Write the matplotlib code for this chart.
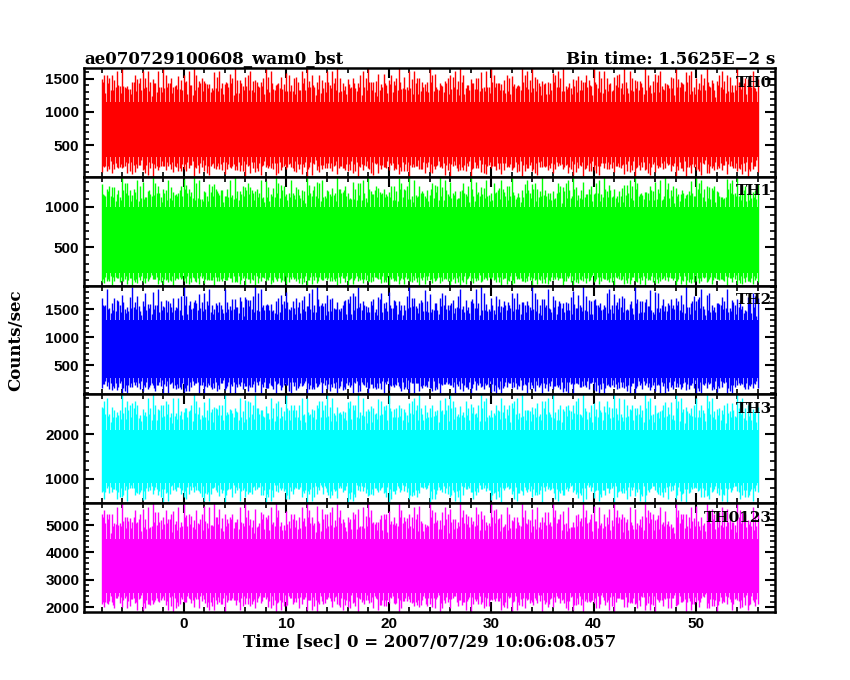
import matplotlib
matplotlib.use("Agg")
import matplotlib.pyplot as plt
import numpy as np

# one sample per second, t = -8 .. 56
t = list(range(-8, 57))
names = ["TH0", "TH1", "TH2", "TH3", "TH0123"]
colors = ["#ff0000", "#00ff00", "#0000ff", "#00ffff", "#ff00ff"]
ylims = [(25, 1660), (29, 1370), (-20, 1918), (455, 2886), (1820, 5800)]
yticks = [[500, 1000, 1500], [500, 1000], [500, 1000, 1500], [1000, 2000], [2000, 3000, 4000, 5000]]
core = [(330, 1150), (180, 1000), (280, 1300), (900, 2100), (2500, 4500)]

highs = [
 [1560,1660,1450,1620,1500,1660,1380,1550,1660,1470,1600,1420,1660,1530,1480,1660,1400,1590,1520,1660,1450,1610,1660,1500,1430,1660,1570,1480,1660,1620,1510,1660,1440,1560,1660,1490,1600,1660,1420,1540,1660,1660,1470,1580,1660,1500,1450,1660,1610,1520,1660,1480,1660,1570,1430,1660,1600,1510,1660,1460,1550,1660,1490,1620,1500],
 [1250,1370,1150,1300,1370,1220,1180,1340,1370,1200,1280,1130,1370,1250,1190,1320,1370,1160,1240,1370,1300,1210,1370,1170,1290,1370,1230,1180,1350,1370,1260,1140,1370,1300,1200,1370,1250,1170,1330,1370,1210,1280,1370,1190,1240,1370,1310,1160,1370,1220,1270,1370,1180,1300,1370,1230,1150,1370,1260,1200,1340,1370,1170,1250,1280],
 [1600,1750,1900,1650,1800,1550,1700,1918,1620,1780,1500,1850,1680,1720,1918,1580,1640,1800,1700,1560,1918,1750,1620,1680,1900,1540,1720,1800,1650,1918,1600,1760,1700,1580,1850,1640,1918,1700,1560,1780,1620,1918,1680,1740,1600,1820,1918,1660,1580,1760,1700,1918,1620,1800,1560,1700,1918,1640,1750,1600,1850,1680,1720,1640,1700],
 [2600,2886,2700,2550,2886,2650,2800,2500,2886,2720,2600,2886,2580,2750,2886,2620,2700,2886,2540,2800,2660,2886,2600,2720,2886,2560,2780,2886,2640,2700,2886,2580,2750,2886,2620,2680,2886,2540,2800,2700,2886,2600,2740,2886,2560,2660,2886,2700,2620,2886,2780,2580,2886,2650,2720,2886,2600,2800,2886,2560,2700,2886,2640,2680,2600],
 [5400,5800,5100,5600,5800,5300,5500,5800,5200,5700,5800,5400,5100,5800,5600,5300,5800,5500,5200,5800,5700,5400,5800,5300,5600,5800,5100,5500,5800,5400,5700,5800,5200,5600,5800,5300,5500,5800,5400,5200,5800,5600,5300,5800,5500,5100,5800,5700,5400,5800,5300,5600,5800,5200,5500,5800,5400,5700,5800,5300,5600,5800,5200,5500,5400],
]
lows = [
 [80,150,60,120,25,180,90,140,40,110,160,70,130,25,100,170,50,140,90,25,120,160,70,110,25,150,80,130,60,25,140,100,170,40,120,25,90,150,60,130,25,110,170,80,140,50,25,120,160,90,60,25,130,100,150,40,25,120,80,140,60,110,25,150,100],
 [40,90,29,70,110,50,29,80,120,60,29,100,70,40,29,90,110,50,80,29,60,100,40,29,90,70,110,29,50,80,29,100,60,40,29,90,70,110,29,50,80,29,60,100,40,29,90,70,110,29,50,80,29,60,100,40,29,90,70,110,29,50,80,60,70],
 [60,-20,120,40,150,-20,90,30,140,-20,100,60,-20,130,20,90,-20,150,50,-20,110,70,-20,140,30,-20,100,60,130,-20,40,90,-20,150,70,-20,120,30,-20,100,60,140,-20,80,20,-20,130,50,-20,110,90,-20,140,40,-20,120,60,-20,100,30,-20,150,70,-20,90],
 [700,600,800,520,650,455,750,600,700,500,820,455,680,600,760,455,720,540,800,455,650,700,580,455,760,620,700,455,800,560,680,455,740,600,455,700,780,520,455,660,720,600,455,800,640,700,455,580,760,455,680,620,455,740,700,560,455,800,620,680,455,720,600,650,700],
 [2200,2000,2300,1900,2100,2400,1820,2200,2000,2300,1900,1820,2250,2100,1950,2300,1820,2050,2200,1900,1820,2300,2100,2000,1820,2250,1900,2150,1820,2300,2000,2100,1820,1950,2250,1820,2100,2300,1900,1820,2050,2200,1820,2000,2300,1900,1820,2150,2250,1820,2000,2100,1900,1820,2300,2050,1820,2200,1950,1820,2100,2250,1900,2000,2100],
]

plt.rcParams["font.family"] = "Liberation Sans"
plt.rcParams["font.weight"] = "bold"
SERIF = "DejaVu Serif"
fig = plt.figure(figsize=(8.5, 6.8), dpi=100)
left, right, top, bottom = 0.099, 0.912, 0.900, 0.100
h = (top - bottom) / 5
axes = []
for i in range(5):
    ax = fig.add_axes([left, top - (i + 1) * h, right - left, h])
    axes.append(ax)
    tt = np.array(t, dtype=float)
    hi = np.array(highs[i], dtype=float)
    lo = np.array(lows[i], dtype=float)
    c0, c1 = core[i]
    ax.fill_between([t[0], t[-1]], c0, c1, color=colors[i], lw=0)
    for k, step in enumerate([1, 7, 13, 19, 29, 37, 43, 53]):
        off = k / 8.0
        hk = np.roll(hi, step)
        lk = np.roll(lo, step)
        frac = [1.0, 0.6, 0.8, 0.45, 0.9, 0.55, 0.7, 0.35][k]
        ax.vlines(tt[:-1] + off, c0 - (c0 - lk[:-1]) * frac, c1 + (hk[:-1] - c1) * frac,
                  color=colors[i], lw=1.0)
    ax.vlines(tt[-1], lo[-1], hi[-1], color=colors[i], lw=1.0)
    ax.set_xlim(-9.7, 57.7)
    ax.set_ylim(*ylims[i])
    ax.set_yticks(yticks[i])
    ax.tick_params(direction="in", top=True, right=True, length=7, width=1.5, labelsize=11)
    ax.minorticks_on()
    ax.tick_params(which="minor", direction="in", top=True, right=True, length=3.5, width=1.2)
    for s in ax.spines.values():
        s.set_linewidth(1.8)
    ax.text(0.995, 0.93, names[i], transform=ax.transAxes, ha="right", va="top",
            fontsize=11, fontweight="bold", family=SERIF)
    if i < 4:
        ax.tick_params(labelbottom=False)
axes[-1].set_xticks([0, 10, 20, 30, 40, 50])
axes[-1].set_xlabel("Time [sec] 0 = 2007/07/29 10:06:08.057", fontsize=12, fontweight="bold",
                    labelpad=2, family=SERIF)
axes[0].set_title("ae070729100608_wam0_bst", loc="left", fontsize=12, fontweight="bold", pad=3, family=SERIF)
axes[0].set_title("Bin time: 1.5625E\u22122 s", loc="right", fontsize=12, fontweight="bold", pad=3, family=SERIF)
fig.text(0.008, 0.5, "Counts/sec", rotation=90, va="center", fontsize=12, fontweight="bold", family=SERIF)
fig.savefig("out.png", dpi=100)
